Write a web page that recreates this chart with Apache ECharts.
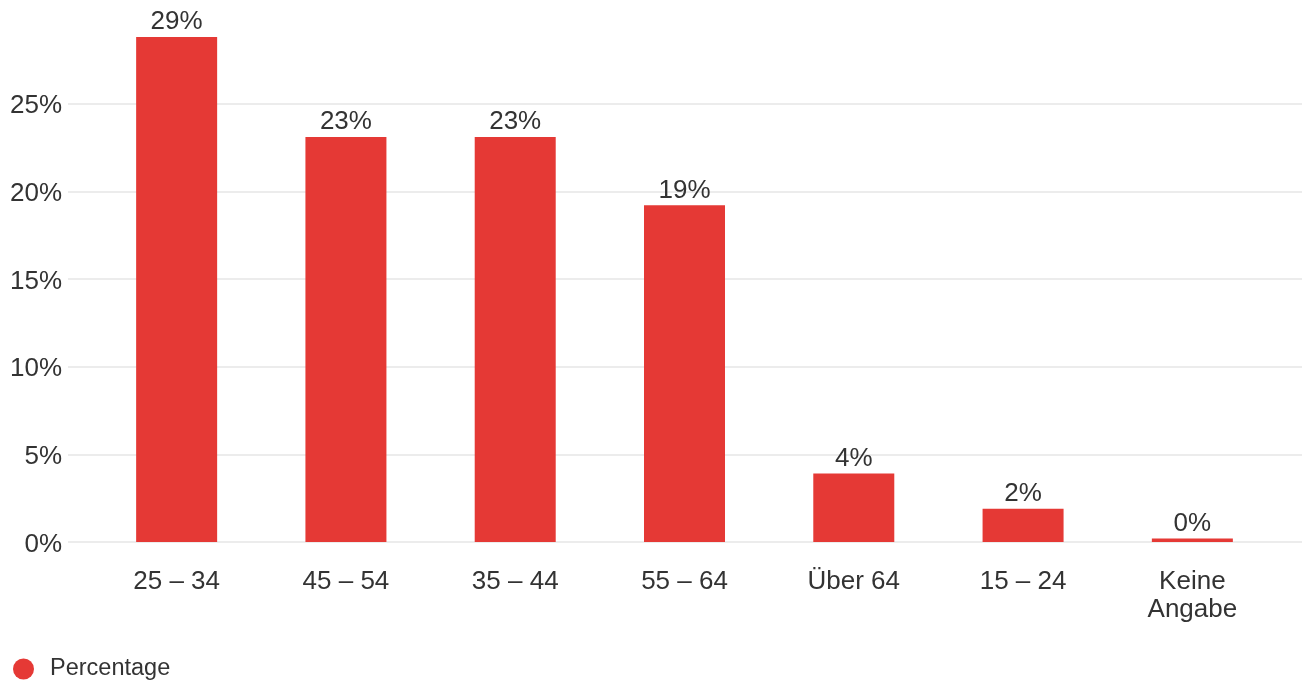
<!DOCTYPE html>
<html>
<head>
<meta charset="utf-8">
<script src="https://cdn.jsdelivr.net/npm/echarts@6/dist/echarts.min.js"></script>
<style>
html,body{margin:0;padding:0;background:#fff;}
#chart{width:1304px;height:685px;}
</style>
</head>
<body>
<div id="chart"></div>
<script>
var categories = ['25 – 34', '45 – 54', '35 – 44', '55 – 64', 'Über 64', '15 – 24', 'Keine\nAngabe'];
var percentages = [28.8, 23.1, 23.1, 19.2, 3.9, 1.9, 0.2];
var seriesName = 'Percentage';

var FONT = '"Liberation Sans", Arial, sans-serif';
var TEXT = '#333333';
var RED = '#e53935';
var yMax = Math.max.apply(null, percentages);

var chart = echarts.init(document.getElementById('chart'), null, {renderer: 'canvas'});
chart.setOption({
  animation: false,
  backgroundColor: '#ffffff',
  textStyle: {fontFamily: FONT},
  legend: {
    data: [seriesName],
    left: 8,
    top: 652,
    icon: 'circle',
    itemWidth: 21,
    itemHeight: 21,
    textStyle: {fontSize: 23.5, color: TEXT, fontFamily: FONT, padding: [0, 0, 0, 11]}
  },
  grid: [
    {left: 68, right: 2, top: 37, bottom: 143},
    {left: 92, right: 27, top: 37, bottom: 143}
  ],
  xAxis: [
    {gridIndex: 0, type: 'value', show: false, min: 0, max: 1},
    {
      gridIndex: 1,
      type: 'category',
      data: categories,
      axisLine: {show: false},
      axisTick: {show: false},
      axisLabel: {color: TEXT, fontSize: 26, fontFamily: FONT, margin: 26, lineHeight: 28, interval: 0}
    }
  ],
  yAxis: [
    {
      gridIndex: 0,
      type: 'value',
      min: 0,
      max: yMax,
      interval: 5,
      axisLine: {show: false},
      axisTick: {show: false},
      splitLine: {show: true, showMaxLine: false, lineStyle: {color: '#e6e6e6', width: 1.5}},
      axisLabel: {
        color: TEXT, fontSize: 26, fontFamily: FONT, margin: 6, showMaxLabel: false,
        formatter: function (v) { return (v % 5 === 0) ? '{a|' + v + '%}' : ''; },
        rich: {a: {fontSize: 26, fontFamily: FONT, color: TEXT, padding: [5, 0, 0, 0]}}
      }
    },
    {gridIndex: 1, type: 'value', min: 0, max: yMax, show: false}
  ],
  series: [{
    name: seriesName,
    type: 'bar',
    xAxisIndex: 1,
    yAxisIndex: 1,
    data: percentages,
    barWidth: 81,
    itemStyle: {color: RED},
    label: {
      show: true,
      position: 'top',
      distance: 2,
      color: TEXT,
      fontSize: 26,
      fontFamily: FONT,
      formatter: function (p) { return Math.round(p.value) + '%'; }
    }
  }]
});
</script>
</body>
</html>
